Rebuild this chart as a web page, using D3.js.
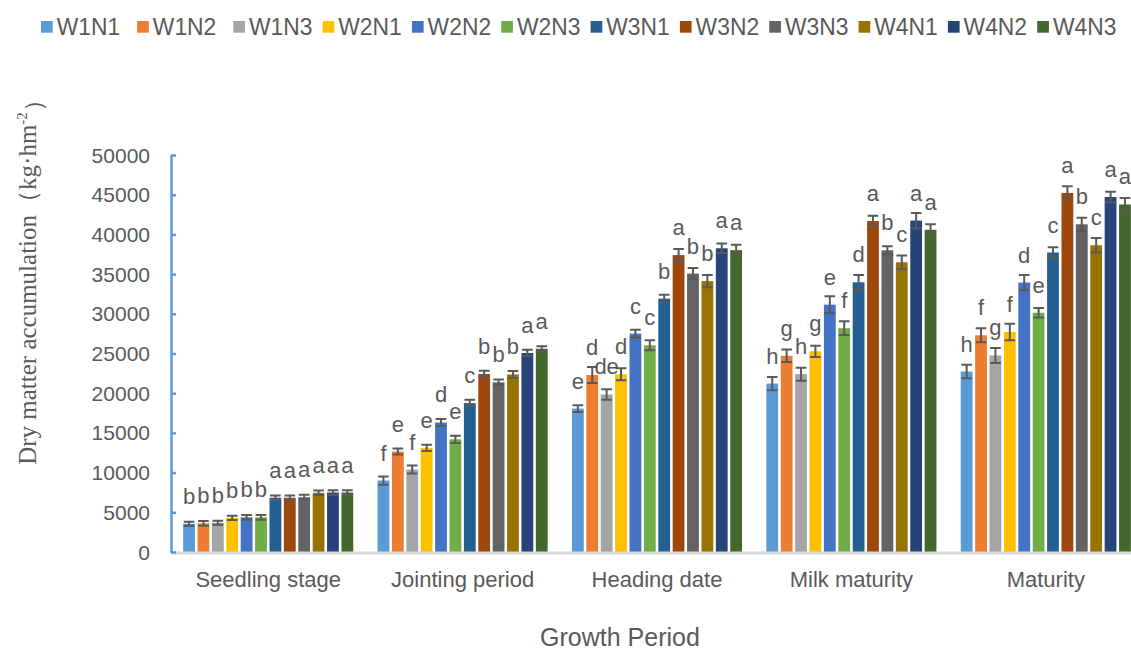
<!DOCTYPE html>
<html>
<head>
<meta charset="utf-8">
<script src="https://cdn.jsdelivr.net/npm/d3@7"></script>
<style>
  html, body { margin: 0; padding: 0; background: #fff; }
  svg { display: block; }
  text { font-family: "Liberation Sans", Arial, sans-serif; fill: #595959; }
</style>
</head>
<body>
<svg id="chart" width="1131" height="653"></svg>
<script>
// Growth periods (x categories) and treatments (series)
const periods = ["Seedling stage", "Jointing period", "Heading date", "Milk maturity", "Maturity"];
const treatments = ["W1N1", "W1N2", "W1N3", "W2N1", "W2N2", "W2N3", "W3N1", "W3N2", "W3N3", "W4N1", "W4N2", "W4N3"];
const colors = ["#5B9BD5", "#ED7D31", "#A5A5A5", "#FFC000", "#4472C4", "#70AD47",
                "#255E91", "#9E480E", "#636363", "#997300", "#264478", "#43682B"];

// Dry matter accumulation (kg·hm-2), one array per growth period, in treatment order
const seedling = [3550, 3610, 3690, 4300, 4370, 4370, 6830, 6830, 6900, 7450, 7490, 7490];
const jointing = [9000, 12650, 10380, 13120, 16310, 14190, 18750, 22420, 21370, 22360, 25060, 25590];
const heading  = [18060, 22290, 19840, 22380, 27500, 26030, 31910, 37390, 35060, 34120, 38250, 38020];
const milk     = [21210, 24710, 22400, 25280, 31150, 28190, 33970, 41690, 38000, 36490, 41740, 40580];
const maturity = [22730, 27290, 24750, 27710, 33940, 30130, 37720, 45220, 41270, 38630, 44710, 43770];

// Standard errors
const seedlingErr = [250, 300, 250, 280, 300, 300, 280, 280, 300, 280, 300, 300];
const jointingErr = [520, 380, 500, 400, 440, 460, 440, 420, 340, 440, 420, 320];
const headingErr  = [420, 1000, 650, 750, 500, 630, 500, 780, 710, 770, 590, 690];
const milkErr     = [840, 780, 820, 710, 1050, 860, 920, 670, 500, 840, 960, 690];
const maturityErr = [860, 880, 940, 1050, 940, 600, 650, 840, 840, 920, 670, 820];

// Significance letters
const seedlingSig = ["b", "b", "b", "b", "b", "b", "a", "a", "a", "a", "a", "a"];
const jointingSig = ["f", "e", "f", "e", "d", "e", "c", "b", "b", "b", "a", "a"];
const headingSig  = ["e", "d", "de", "d", "c", "c", "b", "a", "b", "b", "a", "a"];
const milkSig     = ["h", "g", "h", "g", "e", "f", "d", "a", "b", "c", "a", "a"];
const maturitySig = ["h", "f", "g", "f", "d", "e", "c", "a", "b", "c", "a", "a"];

const yTicks = [0, 5000, 10000, 15000, 20000, 25000, 30000, 35000, 40000, 45000, 50000];

const valueSets = [seedling, jointing, heading, milk, maturity];
const errSets = [seedlingErr, jointingErr, headingErr, milkErr, maturityErr];
const sigSets = [seedlingSig, jointingSig, headingSig, milkSig, maturitySig];

const rows = [];
periods.forEach((p, i) => {
  treatments.forEach((t, j) => {
    rows.push({ period: p, treatment: t, value: valueSets[i][j], err: errSets[i][j], sig: sigSets[i][j], color: colors[j] });
  });
});

const svg = d3.select("#chart");
const plot = { left: 171, right: 1143, top: 155, bottom: 552 };

const x0 = d3.scaleBand().domain(periods).range([plot.left, plot.right])
  .paddingInner(0.125).paddingOuter(0.0625);
const x1 = d3.scaleBand().domain(treatments).range([0, x0.bandwidth()]).paddingInner(0.18).paddingOuter(0);
const y = d3.scaleLinear().domain([0, 50000]).range([plot.bottom, plot.top]);

// Bars
const groups = svg.append("g").selectAll("g").data(periods).join("g")
  .attr("transform", d => `translate(${x0(d)},0)`);

const cells = groups.selectAll("g.cell")
  .data(p => rows.filter(r => r.period === p))
  .join("g").attr("class", "cell");

cells.append("rect")
  .attr("x", d => x1(d.treatment))
  .attr("y", d => y(d.value))
  .attr("width", x1.bandwidth())
  .attr("height", d => y(0) - y(d.value))
  .attr("fill", d => d.color);

// Error bars
const capW = x1.bandwidth() * 0.9;
cells.each(function(d) {
  const g = d3.select(this);
  const cx = x1(d.treatment) + x1.bandwidth() / 2;
  const yt = y(d.value + d.err), yb = y(d.value - d.err);
  const ep = d3.path();
  ep.moveTo(cx, yt); ep.lineTo(cx, yb);
  ep.moveTo(cx - capW / 2, yt); ep.lineTo(cx + capW / 2, yt);
  ep.moveTo(cx - capW / 2, yb); ep.lineTo(cx + capW / 2, yb);
  g.append("path").attr("d", ep.toString())
    .attr("stroke", "#595959").attr("stroke-width", 2).attr("fill", "none");
});

// Significance letters
cells.append("text")
  .attr("x", d => x1(d.treatment) + x1.bandwidth() / 2)
  .attr("y", d => y(d.value) - 20)
  .attr("text-anchor", "middle")
  .style("font-size", "22px")
  .text(d => d.sig);

// X axis baseline
svg.append("line")
  .attr("x1", plot.left).attr("x2", plot.right)
  .attr("y1", y(0) + 1).attr("y2", y(0) + 1)
  .attr("stroke", "#D9D9D9").attr("stroke-width", 3);

// Category labels
svg.append("g").selectAll("text").data(periods).join("text")
  .attr("x", d => x0(d) + x0.bandwidth() / 2)
  .attr("y", 587)
  .attr("text-anchor", "middle")
  .style("font-size", "22px")
  .text(d => d);

// Y axis
const yAxis = d3.axisRight(y).tickValues(yTicks).tickSize(5).tickFormat("");
const yg = svg.append("g").attr("transform", `translate(${plot.left},0)`).call(yAxis);
yg.selectAll("path, line").attr("stroke", "#5B9BD5").attr("stroke-width", 2.5);
yg.select(".domain").attr("d", `M0.5,${plot.top}V${plot.bottom + 1}`);

svg.append("g").selectAll("text").data(yTicks).join("text")
  .attr("x", 150)
  .attr("y", d => y(d))
  .attr("dy", "0.36em")
  .attr("text-anchor", "end")
  .style("font-size", "21px")
  .text(d => d);

// Axis titles
svg.append("text")
  .attr("x", 620).attr("y", 646)
  .attr("text-anchor", "middle")
  .style("font-size", "25px")
  .text("Growth Period");

const yt = svg.append("text")
  .attr("transform", "translate(36,276) rotate(-90)")
  .attr("text-anchor", "middle")
  .style("font-family", "'Liberation Serif', 'Times New Roman', serif")
  .style("font-size", "25px");
yt.append("tspan").text("Dry matter accumulation（kg·hm");
yt.append("tspan").attr("dy", "-0.6em").style("font-size", "15px").text("-2");
yt.append("tspan").attr("dy", "0.6em").text("）");

// Legend
const legend = svg.append("g").selectAll("g").data(treatments).join("g")
  .attr("transform", (d, i) => `translate(${41 + i * 89.33 + Math.min(i, 2) * 6.8},0)`);
legend.append("rect")
  .attr("x", 0).attr("y", 21).attr("width", 11.7).attr("height", 11.7)
  .attr("fill", (d, i) => colors[i]);
legend.append("text")
  .attr("x", 15.7).attr("y", 35)
  .style("font-size", "23px")
  .attr("textLength", 63.5)
  .attr("lengthAdjust", "spacingAndGlyphs")
  .text(d => d);
</script>
</body>
</html>
